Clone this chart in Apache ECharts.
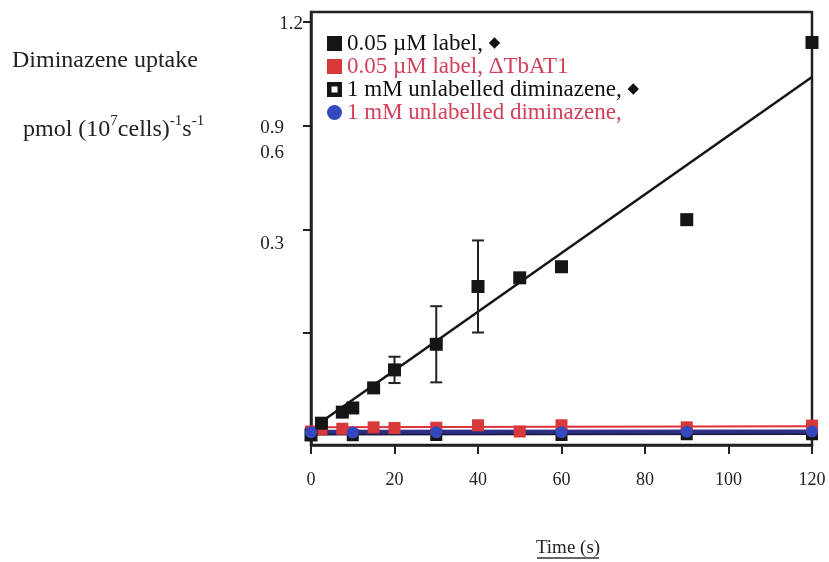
<!DOCTYPE html>
<html>
<head>
<meta charset="utf-8">
<script src="https://cdn.jsdelivr.net/npm/echarts@6/dist/echarts.min.js"></script>
<style>
  html, body { margin: 0; padding: 0; background: #fff; }
  #chart { width: 829px; height: 562px; }
</style>
</head>
<body>
<div id="chart"></div>
<script>
// 0.05 uM label, wild type (black squares, with error bars)
var timeWT = [0, 2.5, 7.5, 10, 15, 20, 30, 40, 50, 60, 90, 120]
var uptakeWT = [0.006, 0.040, 0.072, 0.084, 0.142, 0.194, 0.268, 0.435, 0.460, 0.492, 0.628, 1.140]
var errWT = [0, 0, 0, 0, 0, 0.038, 0.110, 0.133, 0, 0, 0, 0]

// 0.05 uM label, dTbAT1 (red squares)
var timeKO = [0, 2.5, 7.5, 15, 20, 30, 40, 50, 60, 90, 120]
var uptakeKO = [0.016, 0.022, 0.024, 0.028, 0.026, 0.027, 0.034, 0.016, 0.034, 0.028, 0.033]

// 1 mM unlabelled diminazene (black hollow squares, blue circles)
var timeUnlab = [0, 10, 30, 60, 90, 120]
var uptakeUnlab = [0.006, 0.005, 0.006, 0.006, 0.008, 0.008]
var uptakeUnlabKO = [0.014, 0.013, 0.014, 0.014, 0.015, 0.016]

// regression lines, end points
var fitWT = [[2.5, 0.044], [120, 1.04]]
var fitKO = [[0, 0.028], [120, 0.031]]
var fitUnlab = [[0, 0.009], [120, 0.010]]
var fitUnlabKO = [[0, 0.015], [120, 0.016]]

var xTicks = [0, 20, 40, 60, 80, 100, 120]
var yTickValues = [0.3, 0.6, 0.9, 1.2]
var yTickLabels = ['1.2', '0.9', '0.6', '0.3']

var names = [
  '0.05 \u00b5M label, \u25c6',
  '0.05 \u00b5M label, \u0394TbAT1',
  '1 mM unlabelled diminazene, \u25c6',
  '1 mM unlabelled diminazene,'
]

var serif = '"Liberation Serif", "DejaVu Serif", serif'
var hollowSquare = 'path://M0,0H10V10H0Z M3,3V7H7V3Z'

function pairs(xs, ys) {
  return xs.map(function (x, i) { return [x, ys[i]] })
}

var chart = echarts.init(document.getElementById('chart'))

// y tick labels in the original sit where they sit, not on their ticks
var yLabelPos = [[291, 24], [272, 128], [272, 153], [272, 244]]

var graphics = yTickLabels.map(function (t, i) {
  return {
    type: 'text',
    x: yLabelPos[i][0],
    y: yLabelPos[i][1],
    style: { text: t, font: '19px ' + serif, fill: '#222', align: 'center', verticalAlign: 'middle' }
  }
})
graphics.push({
  type: 'text', x: 12, y: 61,
  style: { text: 'Diminazene uptake', font: '24px ' + serif, fill: '#222', verticalAlign: 'middle' }
})
graphics.push({
  type: 'text', x: 23, y: 128,
  style: {
    text: '{a|pmol (10}{s|7}{a|cells)}{s|-1}{a|s}{s|-1}',
    verticalAlign: 'middle',
    rich: {
      a: { font: '24px ' + serif, fill: '#222', verticalAlign: 'bottom', lineHeight: 28 },
      s: { font: '15px ' + serif, fill: '#222', verticalAlign: 'top', lineHeight: 28 }
    }
  }
})
graphics.push({
  type: 'text', x: 568, y: 548,
  style: { text: 'Time (s)', font: '19px ' + serif, fill: '#222', align: 'center', verticalAlign: 'middle' }
})
graphics.push({
  type: 'line',
  shape: { x1: 537, y1: 558, x2: 599, y2: 558 },
  style: { stroke: '#333', lineWidth: 1.5 }
})

chart.setOption({
  backgroundColor: '#fff',
  animation: false,
  textStyle: { fontFamily: serif },
  grid: {
    left: 311,
    right: 17,
    top: 12,
    bottom: 117,
    show: true,
    borderColor: '#222',
    borderWidth: 2.5,
    containLabel: false
  },
  legend: {
    orient: 'vertical',
    left: 322,
    top: 27,
    itemWidth: 15,
    itemHeight: 15,
    itemGap: 0,
    selectedMode: false,
    formatter: function (name) {
      var k = name.indexOf('\u25c6') >= 0 ? 'k' : 'r'
      var t = name.replace(' \u25c6', ' ')
      var s = '{' + k + '|' + t + '}'
      if (name.indexOf('\u25c6') >= 0) s += '{d|\u25c6}'
      return s
    },
    textStyle: {
      rich: {
        k: { fontFamily: serif, fontSize: 23, lineHeight: 22.5, color: '#111' },
        r: { fontFamily: serif, fontSize: 23, lineHeight: 22.5, color: '#d2405a' },
        d: { fontFamily: 'DejaVu Sans', fontSize: 15, lineHeight: 22.5, color: '#111' }
      }
    },
    data: [
      { name: names[0], icon: 'rect' },
      { name: names[1], icon: 'rect' },
      { name: names[2], icon: hollowSquare },
      { name: names[3], icon: 'circle' }
    ]
  },
  xAxis: {
    type: 'value',
    min: 0,
    max: 120,
    interval: 20,
    splitLine: { show: false },
    axisLine: { onZero: false, lineStyle: { color: '#222', width: 2.5 } },
    axisTick: { inside: false, length: 9, lineStyle: { color: '#222', width: 2 } },
    axisLabel: {
      margin: 26,
      fontFamily: serif,
      fontSize: 18,
      color: '#222',
      customValues: xTicks
    }
  },
  yAxis: {
    type: 'value',
    min: -0.023,
    max: 1.228,
    splitLine: { show: false },
    axisLine: { onZero: false, lineStyle: { color: '#222', width: 2.5 } },
    axisTick: { inside: false, length: 8, lineStyle: { color: '#222', width: 2 }, customValues: yTickValues },
    axisLabel: { show: false }
  },
  graphic: graphics,
  series: [
    {
      name: 'fitUnlab',
      type: 'line',
      data: fitUnlab,
      symbol: 'none',
      lineStyle: { color: '#1a1a40', width: 3 },
      z: 2
    },
    {
      name: 'fitUnlabKO',
      type: 'line',
      data: fitUnlabKO,
      symbol: 'none',
      lineStyle: { color: '#2e2e86', width: 4 },
      z: 2
    },
    {
      name: 'fitKO',
      type: 'line',
      data: fitKO,
      symbol: 'none',
      lineStyle: { color: '#e0303a', width: 2 },
      z: 2
    },
    {
      name: 'fitWT',
      type: 'line',
      data: fitWT,
      symbol: 'none',
      lineStyle: { color: '#151515', width: 2.5 },
      z: 2
    },
    {
      name: 'errWT',
      type: 'custom',
      data: timeWT.map(function (t, i) { return [t, uptakeWT[i] - errWT[i], uptakeWT[i] + errWT[i]] })
        .filter(function (d) { return d[2] > d[1] }),
      renderItem: function (params, api) {
        var lo = api.coord([api.value(0), api.value(1)])
        var hi = api.coord([api.value(0), api.value(2)])
        var w = 6
        var st = { stroke: '#222', lineWidth: 2 }
        return {
          type: 'group',
          children: [
            { type: 'line', shape: { x1: lo[0], y1: lo[1], x2: hi[0], y2: hi[1] }, style: st },
            { type: 'line', shape: { x1: lo[0] - w, y1: lo[1], x2: lo[0] + w, y2: lo[1] }, style: st },
            { type: 'line', shape: { x1: hi[0] - w, y1: hi[1], x2: hi[0] + w, y2: hi[1] }, style: st }
          ]
        }
      },
      z: 3
    },
    {
      name: names[2],
      type: 'scatter',
      data: pairs(timeUnlab, uptakeUnlab),
      symbol: hollowSquare,
      symbolSize: 12,
      itemStyle: { color: '#151515', opacity: 1 },
      z: 4
    },
    {
      name: names[1],
      type: 'scatter',
      data: pairs(timeKO, uptakeKO),
      symbol: 'rect',
      symbolSize: 12,
      itemStyle: { color: '#d8383a', opacity: 1 },
      z: 4
    },
    {
      name: names[0],
      type: 'scatter',
      data: pairs(timeWT, uptakeWT),
      symbol: 'rect',
      symbolSize: 13,
      itemStyle: { color: '#151515', opacity: 1 },
      z: 5
    },
    {
      name: names[3],
      type: 'scatter',
      data: pairs(timeUnlab, uptakeUnlabKO),
      symbol: 'circle',
      symbolSize: 12,
      itemStyle: { color: '#3448bf', opacity: 1 },
      z: 6
    }
  ]
})
</script>
</body>
</html>
